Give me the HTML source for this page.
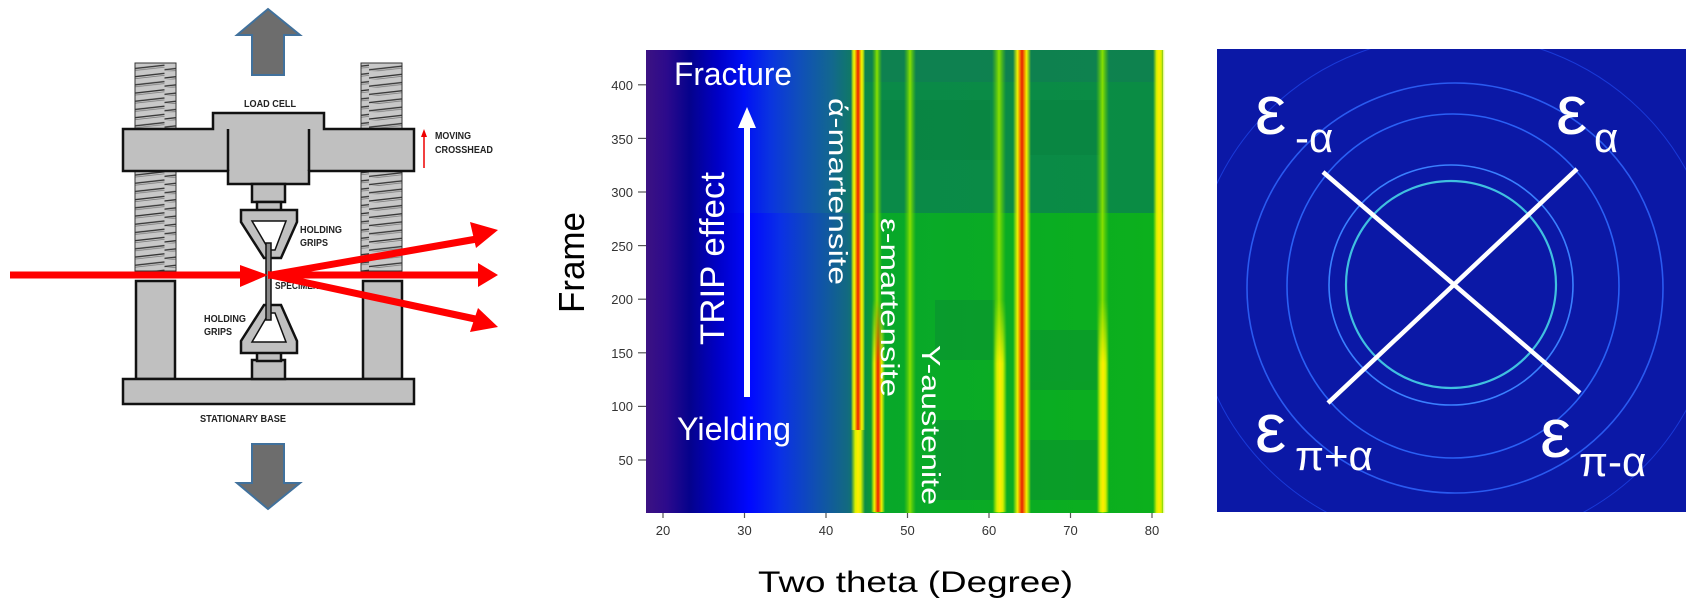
<!DOCTYPE html>
<html><head><meta charset="utf-8"><style>
html,body{margin:0;padding:0;background:#fff;}
svg{display:block;}
text{font-family:"Liberation Sans",sans-serif;}
</style></head><body>
<svg width="1689" height="606" viewBox="0 0 1689 606" xmlns="http://www.w3.org/2000/svg">
<defs>
<pattern id="thr" x="0" y="63" width="41" height="8.2" patternUnits="userSpaceOnUse">
<rect x="0" y="0" width="41" height="8.2" fill="#c8c8c8"/>
<path d="M0,6.8 L41,2.2" stroke="#333" stroke-width="1.3"/>
<path d="M0,8.8 L41,4.2" stroke="#777" stroke-width="0.8"/>
<path d="M0,-1.4 L41,-6" stroke="#333" stroke-width="1.3"/>
</pattern>
<clipPath id="rp"><rect x="1217" y="49" width="469" height="463"/></clipPath>
<linearGradient id="bgT" x1="646" x2="1163" y1="0" y2="0" gradientUnits="userSpaceOnUse">
<stop offset="0" stop-color="#3c1282"/><stop offset="0.04" stop-color="#2c0a8c"/>
<stop offset="0.085" stop-color="#05028c"/><stop offset="0.14" stop-color="#0000c8"/>
<stop offset="0.19" stop-color="#0010f5"/><stop offset="0.24" stop-color="#0a34e0"/>
<stop offset="0.30" stop-color="#1050b8"/><stop offset="0.36" stop-color="#12688e"/>
<stop offset="0.40" stop-color="#0f7a62"/><stop offset="0.42" stop-color="#0a8a48"/>
<stop offset="1" stop-color="#0a8c44"/>
</linearGradient>
<linearGradient id="bgB" x1="646" x2="1163" y1="0" y2="0" gradientUnits="userSpaceOnUse">
<stop offset="0" stop-color="#3c1282"/><stop offset="0.04" stop-color="#2c0a8c"/>
<stop offset="0.085" stop-color="#05028c"/><stop offset="0.14" stop-color="#0000c8"/>
<stop offset="0.20" stop-color="#0008ff"/><stop offset="0.26" stop-color="#0a30e6"/>
<stop offset="0.33" stop-color="#1050b0"/><stop offset="0.39" stop-color="#126a80"/>
<stop offset="0.42" stop-color="#0a8a48"/><stop offset="0.45" stop-color="#08a82a"/>
<stop offset="1" stop-color="#0cb01c"/>
</linearGradient>
<linearGradient id="pkR" x1="0" x2="1" y1="0" y2="0">
<stop offset="0" stop-color="#ffff00" stop-opacity="0"/><stop offset="0.25" stop-color="#f0f000"/>
<stop offset="0.42" stop-color="#f06000"/><stop offset="0.5" stop-color="#e82000"/>
<stop offset="0.58" stop-color="#f06000"/><stop offset="0.75" stop-color="#f0f000"/>
<stop offset="1" stop-color="#ffff00" stop-opacity="0"/>
</linearGradient>
<linearGradient id="pkY" x1="0" x2="1" y1="0" y2="0">
<stop offset="0" stop-color="#c0f000" stop-opacity="0"/><stop offset="0.3" stop-color="#d8f000"/>
<stop offset="0.5" stop-color="#ffee00"/><stop offset="0.7" stop-color="#d8f000"/>
<stop offset="1" stop-color="#c0f000" stop-opacity="0"/>
</linearGradient>
<linearGradient id="pkG" x1="0" x2="1" y1="0" y2="0">
<stop offset="0" stop-color="#60d000" stop-opacity="0"/><stop offset="0.5" stop-color="#88e000"/>
<stop offset="1" stop-color="#60d000" stop-opacity="0"/>
</linearGradient>
<linearGradient id="fadeUp" x1="0" x2="0" y1="0" y2="1">
<stop offset="0" stop-color="#fff" stop-opacity="0"/><stop offset="0.3" stop-color="#fff" stop-opacity="1"/>
<stop offset="1" stop-color="#fff" stop-opacity="1"/>
</linearGradient>
<mask id="mUp"><rect x="600" y="300" width="600" height="212" fill="url(#fadeUp)"/></mask>
</defs>

<!-- ============ LEFT DIAGRAM ============ -->
<g stroke="#41719c" stroke-width="2" fill="#6d6d6d">
<polygon points="268,9 300,35 284,35 284,75 252,75 252,35 237,35"/>
<polygon points="268,509 300,483 284,483 284,444 252,444 252,483 237,483"/>
</g>
<g stroke="#333" stroke-width="1">
<rect x="135" y="63" width="41" height="66" fill="url(#thr)"/>
<rect x="135" y="171" width="41" height="100" fill="url(#thr)"/>
<rect x="361" y="63" width="41" height="66" fill="url(#thr)"/>
<rect x="361" y="171" width="41" height="100" fill="url(#thr)"/>
</g>
<g fill="#c0c0c0" stroke="#111" stroke-width="2.5">
<rect x="136" y="281" width="39" height="98"/>
<rect x="363" y="281" width="39" height="98"/>
<rect x="123" y="379" width="291" height="25"/>
<polygon points="123,129 213,129 213,113 324,113 324,129 414,129 414,171 309,171 309,184 228,184 228,171 123,171"/>
<line x1="228" y1="129" x2="228" y2="171"/><line x1="309" y1="129" x2="309" y2="171"/>
<rect x="252" y="184" width="33" height="18"/>
<rect x="252" y="360" width="33" height="19"/>
<g id="grip">
<rect x="257" y="202" width="24" height="10"/>
<polygon points="241,210 297,210 297,222 281,258 264,258 241,222"/>
<polygon points="252,221 286,221 275,250 269,250" fill="#fff" stroke-width="1.5"/>
</g>
<use href="#grip" transform="translate(0,563) scale(1,-1)"/>
<rect x="266" y="243" width="5" height="77" fill="#888" stroke-width="1.5"/>
</g>
<g font-family="Liberation Sans, sans-serif" font-size="10" font-weight="bold" fill="#222">
<text x="270" y="107" text-anchor="middle" textLength="52" lengthAdjust="spacingAndGlyphs">LOAD CELL</text>
<text x="435" y="139" textLength="36" lengthAdjust="spacingAndGlyphs">MOVING</text>
<text x="435" y="153" textLength="58" lengthAdjust="spacingAndGlyphs">CROSSHEAD</text>
<text x="300" y="233" textLength="42" lengthAdjust="spacingAndGlyphs">HOLDING</text>
<text x="300" y="246" textLength="28" lengthAdjust="spacingAndGlyphs">GRIPS</text>
<text x="204" y="322" textLength="42" lengthAdjust="spacingAndGlyphs">HOLDING</text>
<text x="204" y="335" textLength="28" lengthAdjust="spacingAndGlyphs">GRIPS</text>
<text x="243" y="422" text-anchor="middle" textLength="86" lengthAdjust="spacingAndGlyphs">STATIONARY BASE</text>
<text x="275" y="289" textLength="44" lengthAdjust="spacingAndGlyphs">SPECIMEN</text>
</g>
<line x1="424" y1="168" x2="424" y2="134" stroke="#e00" stroke-width="1.5"/>
<polygon points="424,129 421,137 427,137" fill="#e00"/>
<g fill="#ff0000" stroke="none">
<rect x="10" y="271.5" width="235" height="7"/>
<polygon points="240,265 268,275 240,287"/>
<rect x="268" y="271.5" width="210" height="7"/>
<polygon points="478,263 498,275 478,287"/>
<polygon points="268,272 476,235.5 477.5,242.5 268,279"/>
<polygon points="470,222 498,230 476,248"/>
<polygon points="268,271 476,315.5 474.5,322.5 268,278"/>
<polygon points="478,308 498,327 470,332"/>
</g>

<!-- ============ HEATMAP ============ -->
<rect x="646" y="50" width="517" height="163" fill="url(#bgT)"/>
<rect x="646" y="213" width="517" height="300" fill="url(#bgB)"/>
<rect x="860" y="50" width="303" height="32" fill="#137a58" opacity="0.55"/>
<g opacity="0.3" fill="#0a7a3a">
<rect x="880" y="100" width="110" height="60"/><rect x="1030" y="100" width="70" height="55"/>
<rect x="935" y="300" width="60" height="60"/><rect x="1030" y="330" width="70" height="60"/>
<rect x="935" y="420" width="60" height="80"/><rect x="1030" y="440" width="70" height="60"/>
</g>
<rect x="851" y="50" width="14" height="463" fill="url(#pkY)"/>
<rect x="851" y="50" width="14" height="380" fill="url(#pkR)"/>
<rect x="872" y="50" width="10" height="463" fill="url(#pkG)"/>
<rect x="871" y="300" width="14" height="213" fill="url(#pkR)" mask="url(#mUp)"/>
<rect x="904" y="50" width="12" height="463" fill="url(#pkG)"/>
<rect x="992" y="50" width="14" height="463" fill="url(#pkG)"/>
<rect x="993" y="300" width="14" height="213" fill="url(#pkY)" mask="url(#mUp)"/>
<rect x="1013" y="50" width="18" height="463" fill="url(#pkR)"/>
<rect x="1096" y="50" width="13" height="463" fill="url(#pkG)"/>
<rect x="1097" y="300" width="12" height="213" fill="url(#pkY)" mask="url(#mUp)"/>
<rect x="1153" y="50" width="12" height="463" fill="url(#pkY)"/>
<g stroke="#555" stroke-width="1.2">
<line x1="638" y1="460" x2="646" y2="460"/><line x1="638" y1="406.4" x2="646" y2="406.4"/>
<line x1="638" y1="352.8" x2="646" y2="352.8"/><line x1="638" y1="299.2" x2="646" y2="299.2"/>
<line x1="638" y1="245.6" x2="646" y2="245.6"/><line x1="638" y1="192" x2="646" y2="192"/>
<line x1="638" y1="138.4" x2="646" y2="138.4"/><line x1="638" y1="84.8" x2="646" y2="84.8"/>
<line x1="663" y1="513" x2="663" y2="518"/><line x1="744.5" y1="513" x2="744.5" y2="518"/>
<line x1="826" y1="513" x2="826" y2="518"/><line x1="907.5" y1="513" x2="907.5" y2="518"/>
<line x1="989" y1="513" x2="989" y2="518"/><line x1="1070.5" y1="513" x2="1070.5" y2="518"/>
<line x1="1152" y1="513" x2="1152" y2="518"/>
</g>
<g font-size="13" fill="#333" text-anchor="end">
<text x="633" y="465">50</text><text x="633" y="411">100</text><text x="633" y="358">150</text>
<text x="633" y="304">200</text><text x="633" y="251">250</text><text x="633" y="197">300</text>
<text x="633" y="144">350</text><text x="633" y="90">400</text>
</g>
<g font-size="13" fill="#333" text-anchor="middle">
<text x="663" y="535">20</text><text x="744.5" y="535">30</text><text x="826" y="535">40</text>
<text x="907.5" y="535">50</text><text x="989" y="535">60</text><text x="1070.5" y="535">70</text>
<text x="1152" y="535">80</text>
</g>
<text x="758" y="592" font-size="30" fill="#000" textLength="315" lengthAdjust="spacingAndGlyphs">Two theta (Degree)</text>
<text transform="translate(584,313) rotate(-90)" font-size="36" fill="#000" textLength="101" lengthAdjust="spacingAndGlyphs">Frame</text>
<g fill="#fff">
<text x="674" y="85" font-size="32" textLength="118" lengthAdjust="spacingAndGlyphs">Fracture</text>
<text x="677" y="440" font-size="32" textLength="114" lengthAdjust="spacingAndGlyphs">Yielding</text>
<text transform="translate(724,345) rotate(-90)" font-size="34" textLength="173" lengthAdjust="spacingAndGlyphs">TRIP effect</text>
<rect x="744" y="125" width="6" height="272"/>
<polygon points="747,107 738,128 756,128"/>
<text transform="translate(829,98) rotate(90)" font-size="26" textLength="187" lengthAdjust="spacingAndGlyphs">ά-martensite</text>
<text transform="translate(881,218) rotate(90)" font-size="26" textLength="179" lengthAdjust="spacingAndGlyphs">ε-martensite</text>
<text transform="translate(922,345) rotate(90)" font-size="26" textLength="160" lengthAdjust="spacingAndGlyphs">Y-austenite</text>
</g>

<!-- ============ RIGHT PANEL ============ -->
<rect x="1217" y="49" width="469" height="463" fill="#0b18a6"/>
<g fill="none" stroke-width="1.6" clip-path="url(#rp)">
<ellipse cx="1455" cy="290" rx="262" ry="255" stroke="#1a3ad8" stroke-width="1"/>
<ellipse cx="1455" cy="288" rx="208" ry="205" stroke="#2a5af0"/>
<ellipse cx="1453" cy="286" rx="166" ry="172" stroke="#2a60f5"/>
<ellipse cx="1451" cy="285" rx="122" ry="120" stroke="#3a80ff"/>
<ellipse cx="1451" cy="284.5" rx="105" ry="103.5" stroke="#40c0e0" stroke-width="2.2"/>
</g>
<g stroke="#fff" stroke-width="4.5">
<line x1="1323" y1="172" x2="1580" y2="393"/>
<line x1="1577" y1="169" x2="1328" y2="403"/>
</g>
<g fill="#fff">
<text x="1255" y="134" font-size="70">ε</text><text x="1295" y="152" font-size="42">-α</text>
<text x="1556" y="134" font-size="70">ε</text><text x="1594" y="152" font-size="42">α</text>
<text x="1255" y="452" font-size="70">ε</text><text x="1295" y="470" font-size="42">π+α</text>
<text x="1540" y="457" font-size="70">ε</text><text x="1579" y="476" font-size="42">π-α</text>
</g>
</svg>
</body></html>
